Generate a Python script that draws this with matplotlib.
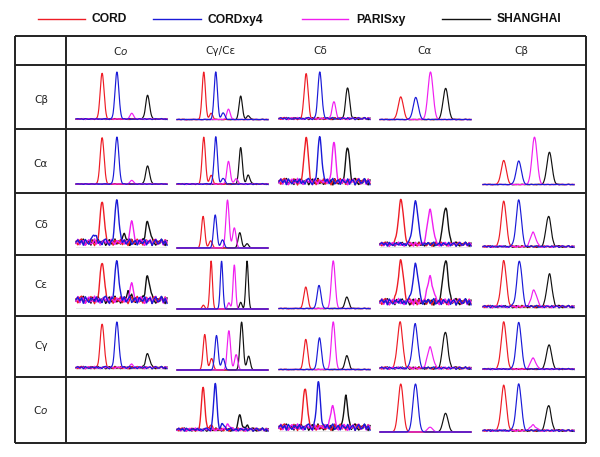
import numpy as np
import matplotlib
matplotlib.use("Agg")
import matplotlib.pyplot as plt

nan = np.nan

ROW_LABELS = ["Cβ", "Cα", "Cδ", "Cε", "Cγ", "C$o$"]
COL_LABELS = ["C$o$", "Cγ/Cε", "Cδ", "Cα", "Cβ"]
SERIES = ["CORD", "CORDxy4", "PARISxy", "SHANGHAI"]
COLORS = ["#ee1c25", "#1a1ad8", "#f01ef0", "#111111"]

# main peak position (fraction of panel width), rows x cols
RED_POS = [[0.287, 0.294, 0.298, 0.228, nan],
           [0.287, 0.294, 0.298, nan, 0.228],
           [0.287, 0.287, nan, 0.230, 0.228],
           [0.287, 0.375, 0.294, 0.228, 0.228],
           [0.287, 0.305, 0.294, 0.220, 0.228],
           [nan, 0.287, 0.287, 0.228, 0.228]]
BLUE_POS = [[0.450, 0.426, 0.449, 0.393, nan],
            [0.450, 0.426, 0.449, nan, 0.393],
            [0.450, 0.420, nan, 0.390, 0.393],
            [0.450, 0.490, 0.440, 0.390, 0.400],
            [0.450, 0.434, 0.445, 0.386, 0.393],
            [nan, 0.420, 0.434, 0.390, 0.393]]
MAG_POS = [[0.614, 0.566, 0.603, 0.555, nan],
           [0.614, 0.566, 0.603, nan, 0.566],
           [0.614, 0.555, nan, 0.550, 0.550],
           [0.614, 0.630, 0.596, 0.550, 0.560],
           [0.614, 0.570, 0.596, 0.550, 0.550],
           [nan, 0.560, 0.585, 0.550, 0.550]]
BLACK_POS = [[0.787, 0.700, 0.754, 0.721, nan],
             [0.787, 0.700, 0.754, nan, 0.730],
             [0.787, 0.690, nan, 0.720, 0.720],
             [0.787, 0.770, 0.746, 0.720, 0.730],
             [0.787, 0.710, 0.746, 0.717, 0.725],
             [nan, 0.690, 0.735, 0.720, 0.720]]

# peak tops (fraction of panel height)
RED_H = [[0.98, 1.00, 0.97, 0.48, nan],
         [0.99, 1.00, 1.00, nan, 0.51],
         [0.99, 0.66, nan, 1.00, 0.97],
         [0.99, 1.00, 0.46, 1.00, 1.00],
         [0.97, 0.74, 0.64, 1.00, 1.00],
         [nan, 0.95, 0.93, 1.00, 0.97]]
BLUE_H = [[1.00, 1.00, 1.00, 0.47, nan],
          [1.00, 1.00, 1.00, nan, 0.50],
          [1.00, 0.69, nan, 0.97, 1.00],
          [1.00, 1.00, 0.49, 0.93, 1.00],
          [1.00, 0.72, 0.67, 0.96, 0.99],
          [nan, 1.00, 1.00, 1.00, 1.00]]
MAG_H = [[0.13, 0.23, 0.36, 1.00, nan],
         [0.09, 0.50, 0.83, nan, 1.00],
         [0.50, 1.00, nan, 0.80, 0.33],
         [0.47, 0.92, 1.00, 0.68, 0.40],
         [0.10, 0.82, 1.00, 0.48, 0.25],
         [nan, 0.17, 0.53, 0.10, 0.15]]
BLACK_H = [[0.52, 0.50, 0.68, 0.66, nan],
           [0.40, 0.78, 0.80, nan, 0.68],
           [0.57, 0.32, nan, 0.83, 0.66],
           [0.71, 1.00, 0.25, 1.00, 0.72],
           [0.35, 1.00, 0.30, 0.79, 0.52],
           [nan, 0.35, 0.72, 0.39, 0.55]]

# small side peaks: (row, col, position, top)
RED_SIDE = [(0, 1, 0.375, 0.14), (1, 1, 0.375, 0.20), (2, 1, 0.370, 0.15),
            (3, 1, 0.290, 0.08), (4, 1, 0.380, 0.24), (5, 1, 0.370, 0.14)]
BLUE_SIDE = [(0, 1, 0.507, 0.15), (1, 1, 0.507, 0.14), (2, 0, 0.200, 0.28),
             (2, 1, 0.500, 0.17), (4, 1, 0.507, 0.24), (5, 1, 0.500, 0.17)]
MAG_SIDE = [(1, 1, 0.650, 0.14), (2, 1, 0.630, 0.42), (3, 1, 0.570, 0.13),
            (4, 1, 0.650, 0.32)]
BLACK_SIDE = [(0, 1, 0.783, 0.09), (1, 1, 0.783, 0.21), (2, 0, 0.530, 0.26),
              (2, 1, 0.770, 0.09), (3, 0, 0.580, 0.35), (3, 1, 0.700, 0.14),
              (4, 1, 0.787, 0.29), (5, 1, 0.770, 0.14)]

# baseline lift and noise level of the traces
OFFSET = [[0.02, 0.01, 0.03, 0.01, 0.00],
          [0.02, 0.02, 0.07, 0.00, 0.01],
          [0.12, 0.00, 0.00, 0.08, 0.03],
          [0.19, 0.00, 0.01, 0.15, 0.05],
          [0.05, 0.00, 0.01, 0.04, 0.02],
          [0.00, 0.05, 0.10, 0.00, 0.03]]
NOISE = [[0.012, 0.006, 0.025, 0.006, 0.0],
         [0.008, 0.012, 0.070, 0.0, 0.006],
         [0.070, 0.0, 0.0, 0.045, 0.020],
         [0.080, 0.0, 0.006, 0.070, 0.028],
         [0.028, 0.0, 0.006, 0.028, 0.014],
         [0.0, 0.035, 0.070, 0.0, 0.020]]
WIDTH = [[0.021, 0.018, 0.021, 0.028, 0.028],
         [0.021, 0.018, 0.021, 0.028, 0.028],
         [0.021, 0.018, 0.021, 0.028, 0.028],
         [0.021, 0.014, 0.021, 0.028, 0.028],
         [0.021, 0.018, 0.021, 0.028, 0.028],
         [0.021, 0.018, 0.021, 0.028, 0.028]]

# baseline wiggle
WIGGLE = [0.3, -0.8, 0.6, 1.0, -0.2, -0.9, 0.4, -0.5, 0.9, 0.1,
          -1.0, 0.5, -0.3, 0.8, -0.6, 0.2, 1.0, -0.7, -0.1, 0.6,
          -0.9, 0.7, 0.0, -0.4, 0.9, -0.8, 0.3, 0.5, -1.0, 0.2,
          0.8, -0.5, -0.2, 1.0, -0.6, 0.4, -0.9, 0.1, 0.7, -0.3,
          0.6, -1.0, 0.9, -0.1, -0.7, 0.5, 0.2, -0.4, 0.8, -0.6]

# layout (pixels)
W, H = 600, 457
PANEL_X = [76, 177, 279, 380, 483]
PANEL_W = 91
AXIS_Y = [120, 185, 248, 309, 370, 432]
PANEL_H = 48
ROW_LINES = [36, 65, 129, 193, 255, 316, 377, 443]
ROW_TEXT_Y = [100, 164, 225, 285, 346, 410]
COL_TEXT_X = [121, 220, 320, 424, 521]

fig = plt.figure(figsize=(W / 100, H / 100), dpi=100)
bg = fig.add_axes([0, 0, 1, 1])
bg.set_xlim(0, W)
bg.set_ylim(H, 0)
bg.axis("off")

# table grid
edge = "#222222"
bg.hlines(ROW_LINES, 15, 586, color=edge, lw=1.4)
bg.vlines([15, 66, 586], 36, 443, color=edge, lw=1.4)

for lab, y in zip(ROW_LABELS, ROW_TEXT_Y):
    bg.text(41, y, lab, ha="center", va="center", fontsize=7.5, color="#222222")
for lab, x in zip(COL_LABELS, COL_TEXT_X):
    bg.text(x, 51, lab, ha="center", va="center", fontsize=7.5, color="#222222")

# legend
leg_x = [(38, 85, 92), (153, 201, 208), (302, 348, 356), (442, 490, 497)]
for (x0, x1, xt), name, col in zip(leg_x, SERIES, COLORS):
    bg.plot([x0, x1], [19, 19], color=col, lw=1.0)
    bg.text(xt, 19.5, name, ha="left", va="center", fontsize=8.7,
            fontweight="bold", family="Liberation Sans", color="#111111")

pos_all = [RED_POS, BLUE_POS, MAG_POS, BLACK_POS]
h_all = [RED_H, BLUE_H, MAG_H, BLACK_H]
side_all = [RED_SIDE, BLUE_SIDE, MAG_SIDE, BLACK_SIDE]
shift = [0, 13, 27, 38]
draw_order = [3, 0, 2, 1]

x = np.linspace(0, 1, 300)
wig_x = np.linspace(0, 1, len(WIGGLE))


def gauss(p, s):
    return np.exp(-0.5 * ((x - p) / s) ** 2)


for r in range(6):
    for c in range(5):
        if np.isnan(RED_POS[r][c]):
            continue
        ax = fig.add_axes([PANEL_X[c] / W, (H - AXIS_Y[r]) / H,
                           PANEL_W / W, PANEL_H / H])
        ax.set_xlim(0, 1)
        ax.set_ylim(0, 1)
        ax.axis("off")
        ax.axhline(0, color="#555555", lw=0.9, zorder=1)
        off, nz, s = OFFSET[r][c], NOISE[r][c], WIDTH[r][c]
        lw = 1.0 if nz > 0.03 else 0.85
        for k in draw_order:
            wig = np.interp(x, wig_x, np.roll(WIGGLE, shift[k]))
            y = off + nz * wig
            y = y + (h_all[k][r][c] - off) * gauss(pos_all[k][r][c], s)
            for rr, cc, p, top in side_all[k]:
                if rr == r and cc == c:
                    y = y + (top - off) * gauss(p, s)
            ax.plot(x, y, color=COLORS[k], lw=lw, clip_on=False, zorder=2)

fig.savefig("out.png", dpi=100)
